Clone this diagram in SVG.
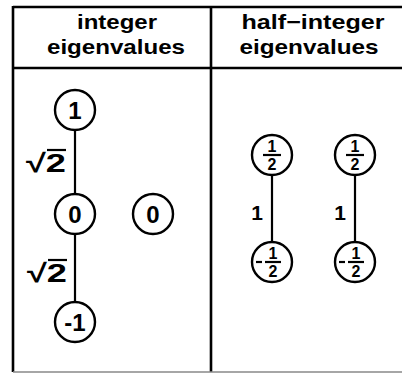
<svg xmlns="http://www.w3.org/2000/svg" width="402" height="374" viewBox="0 0 402 374">
<style>
.frame{stroke:#000;stroke-width:2.6;fill:none}
.node{fill:#fff;stroke:#000;stroke-width:2.4}
.edge{stroke:#000;stroke-width:2.2;fill:none}
.t{font-family:"Liberation Sans",Arial,sans-serif;font-weight:bold;fill:#000;text-anchor:middle}
.hd{font-size:21px}
.n{font-size:24px}
.fr{font-size:16px}
.lab{font-size:21px}
.sq{font-size:26px}
</style>
<rect width="402" height="374" fill="#fff"/>
<g id="frame">
<line class="frame" x1="13" y1="7" x2="402" y2="7"/>
<line class="frame" x1="13" y1="68" x2="402" y2="68"/>
<line class="frame" x1="13" y1="6" x2="13" y2="372"/>
<line class="frame" x1="211" y1="6" x2="211" y2="372"/>
<line x1="13" y1="372" x2="402" y2="372" stroke="#888" stroke-width="1.5"/>
</g>
<g id="headers">
<text class="t hd" x="117" y="29" textLength="80" lengthAdjust="spacingAndGlyphs">integer</text>
<text class="t hd" x="116" y="54" textLength="138" lengthAdjust="spacingAndGlyphs">eigenvalues</text>
<text class="t hd" x="313" y="29" textLength="143" lengthAdjust="spacingAndGlyphs">half−integer</text>
<text class="t hd" x="309" y="54" textLength="139" lengthAdjust="spacingAndGlyphs">eigenvalues</text>
</g>
<g id="connectors">
<line class="edge" x1="75" y1="130" x2="75" y2="194"/>
<line class="edge" x1="75" y1="234" x2="75" y2="302"/>
<line class="edge" x1="272" y1="175" x2="272" y2="242"/>
<line class="edge" x1="355" y1="175" x2="355" y2="242"/>
<g class="t">
<text class="sq" x="46" y="172" textLength="40" lengthAdjust="spacingAndGlyphs">√2</text>
<line class="edge" x1="47" y1="150" x2="66" y2="150"/>
<text class="sq" x="47" y="282" textLength="40" lengthAdjust="spacingAndGlyphs">√2</text>
<line class="edge" x1="48" y1="260" x2="67" y2="260"/>
<text class="lab" x="257" y="220">1</text>
<text class="lab" x="340" y="220">1</text>
</g>
</g>
<g id="n1"><circle class="node" cx="75" cy="110" r="20"/><text class="t n" x="75" y="119">1</text></g>
<g id="n0"><circle class="node" cx="75" cy="214" r="20"/><text class="t n" x="75" y="223">0</text></g>
<g id="nm1"><circle class="node" cx="75" cy="322" r="20"/><text class="t n" x="75" y="331">-1</text></g>
<g id="n0b"><circle class="node" cx="153" cy="214" r="20"/><text class="t n" x="153" y="223">0</text></g>
<g id="h1"><circle class="node" cx="272" cy="155" r="20"/><text class="t fr" x="272" y="152">1</text><line class="edge" x1="263" y1="155" x2="281" y2="155"/><text class="t fr" x="272" y="170">2</text></g>
<g id="h2"><circle class="node" cx="355" cy="155" r="20"/><text class="t fr" x="355" y="152">1</text><line class="edge" x1="346" y1="155" x2="364" y2="155"/><text class="t fr" x="355" y="170">2</text></g>
<g id="hm1"><circle class="node" cx="272" cy="262" r="20"/><line class="edge" x1="256" y1="262" x2="262" y2="262"/><text class="t fr" x="273" y="259">1</text><line class="edge" x1="265" y1="262" x2="281" y2="262"/><text class="t fr" x="273" y="277">2</text></g>
<g id="hm2"><circle class="node" cx="355" cy="262" r="20"/><line class="edge" x1="339" y1="262" x2="345" y2="262"/><text class="t fr" x="356" y="259">1</text><line class="edge" x1="348" y1="262" x2="364" y2="262"/><text class="t fr" x="356" y="277">2</text></g>
</svg>
